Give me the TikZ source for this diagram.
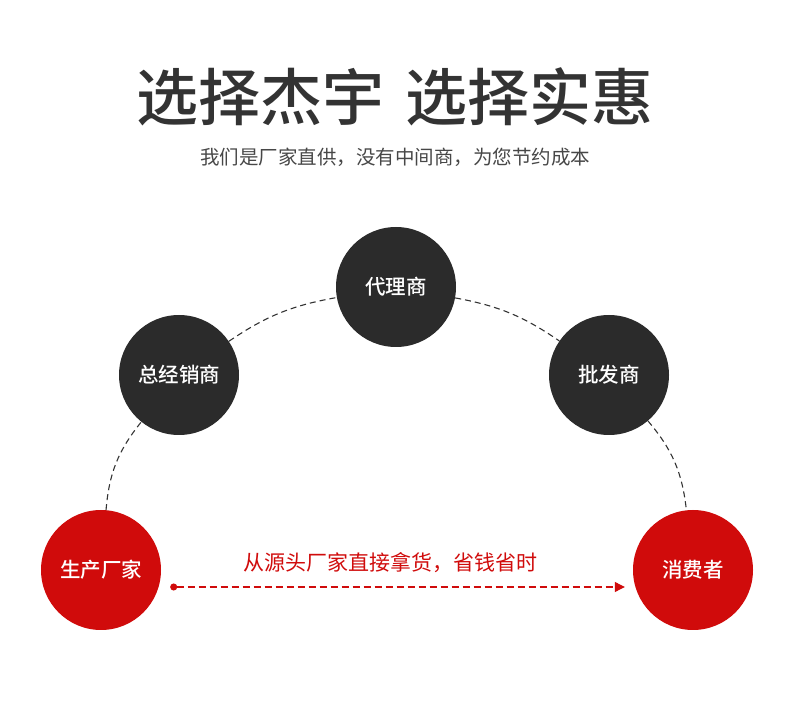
\documentclass[tikz,border=0pt]{standalone}
\usepackage{fontspec}
\setmainfont{Noto Sans CJK SC}
\newfontfamily\cjkmedium{Noto Sans CJK SC Medium}
\usetikzlibrary{arrows.meta}
\definecolor{darkgrey}{HTML}{2B2B2B}
\definecolor{textgrey}{HTML}{333333}
\definecolor{brandred}{HTML}{D00B0B}
\begin{document}
\begin{tikzpicture}[x=1pt, y=1pt,
  stage/.style={circle, fill=darkgrey, minimum size=120pt, inner sep=0pt, text=white, font=\fontsize{20.5}{20.5}\cjkmedium},
  endstage/.style={stage, fill=brandred},
  path link/.style={draw=textgrey, line width=1.1pt, dash pattern=on 6pt off 4pt}]
\useasboundingbox (0,0) rectangle (790,726);
% heading
\node[font=\fontsize{62}{62}\cjkmedium, text=textgrey] (title) at (395,629) {选择杰宇\hspace{0.35em}选择实惠};
\node[font=\fontsize{19.5}{19.5}\selectfont, text=textgrey!90] (subtitle) at (395,569) {我们是厂家直供，没有中间商，为您节约成本};
% chain of resellers
\node[endstage] (maker) at (101,156) {生产厂家};
\node[stage] (dealer) at (179,351) {总经销商};
\node[stage] (agent) at (396,439) {代理商};
\node[stage] (wholesale) at (609,351) {批发商};
\node[endstage] (consumer) at (693,156) {消费者};
\draw[path link] (maker) to[bend left=17] (dealer);
\draw[path link] (dealer) to[bend left=12] (agent);
\draw[path link] (agent) to[bend left=12] (wholesale);
\draw[path link] (wholesale) to[bend left=17] (consumer);
% direct route
\draw[brandred, line width=1.1pt, dash pattern=on 7pt off 4pt, shorten <=9pt, shorten >=8pt,
  {Circle[length=7pt]}-{Triangle[length=10pt,width=10pt]}]
  ([yshift=-17pt]maker.east) -- ([yshift=-17pt]consumer.west);
\node[font=\fontsize{21}{21}\selectfont, text=brandred] (direct) at (390,163) {从源头厂家直接拿货，省钱省时};
\end{tikzpicture}
\end{document}
